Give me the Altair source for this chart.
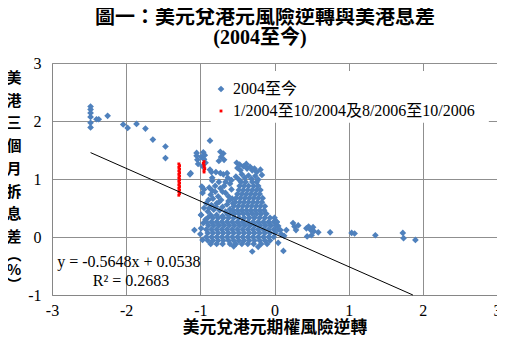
import altair as alt
import pandas as pd

S1 = "2004至今"
S2 = "1/2004至10/2004及8/2006至10/2006"
BLUE = "#4F81BD"
RED = "#FF0000"

# ---- blue series ----
top_left = [(-2.48, 2.25), (-2.48, 2.20), (-2.48, 2.14), (-2.48, 2.07), (-2.48, 1.97), (-2.48, 1.89),
            (-2.40, 2.03), (-2.37, 2.03), (-2.25, 2.09), (-2.04, 1.94), (-1.98, 1.88), (-1.86, 1.95),
            (-1.74, 1.87), (-1.64, 1.68), (-1.47, 1.56), (-1.47, 1.36), (-1.14, 1.08)]

upper = [(-0.87, 1.66), (-1.05, 1.45), (-1.05, 1.40), (-1.04, 1.33), (-1.03, 1.26), (-0.99, 1.38),
         (-0.96, 1.46), (-0.94, 1.41), (-0.95, 1.34), (-0.93, 1.28), (-0.97, 1.22), (-1.13, 1.10),
         (-0.87, 1.16), (-0.85, 1.12), (-0.84, 1.02), (-0.73, 1.47), (-0.69, 1.44), (-0.72, 1.38),
         (-0.68, 1.33), (-0.75, 1.31), (-0.73, 1.10), (-0.69, 1.08), (-0.79, 1.12), (-0.64, 1.10)]

tower_top = [(-0.51, 1.28), (-0.47, 1.25), (-0.50, 1.19), (-0.46, 1.15), (-0.42, 1.22), (-0.38, 1.26),
             (-0.37, 1.18), (-0.33, 1.21), (-0.30, 1.15), (-0.27, 1.18), (-0.24, 1.12), (-0.26, 1.05),
             (-0.19, 1.16), (-0.17, 1.07), (-0.44, 1.08), (-0.40, 1.02), (-0.35, 1.06), (-0.31, 1.00),
             (-0.22, 0.99), (-0.52, 1.04), (-0.48, 0.99)]

tower_row_y = [0.95, 0.88, 0.81, 0.74, 0.67, 0.60, 0.53, 0.46, 0.40]
tower_row_x = [
    [-0.45, -0.39, -0.30, -0.24],
    [-0.47, -0.41, -0.35, -0.28, -0.22],
    [-0.48, -0.42, -0.36, -0.30, -0.24, -0.19],
    [-0.50, -0.44, -0.38, -0.32, -0.26, -0.20],
    [-0.52, -0.46, -0.40, -0.34, -0.28, -0.22, -0.16],
    [-0.53, -0.47, -0.41, -0.35, -0.29, -0.23, -0.17],
    [-0.55, -0.49, -0.43, -0.37, -0.31, -0.25, -0.19, -0.13],
    [-0.56, -0.50, -0.44, -0.38, -0.32, -0.26, -0.20, -0.14],
    [-0.60, -0.54, -0.48, -0.42, -0.36, -0.30, -0.24, -0.18, -0.11],
]

left_mid = [(-0.98, 0.87), (-0.95, 0.82), (-0.97, 0.76), (-0.88, 0.85), (-0.84, 0.80), (-0.86, 0.73),
            (-0.80, 0.78), (-0.76, 0.70), (-0.83, 0.66), (-0.89, 0.64), (-0.72, 0.64), (-0.66, 0.76),
            (-0.62, 0.70), (-0.58, 0.82), (-0.60, 0.92), (-0.66, 0.95), (-0.75, 0.95), (-0.84, 0.97),
            (-0.92, 0.58), (-0.85, 0.55), (-0.78, 0.58), (-0.70, 0.52), (-0.64, 0.56), (-0.60, 0.48),
            (-0.66, 0.44), (-0.74, 0.46), (-0.82, 0.47), (-0.90, 0.44), (-0.99, 0.38), (-0.86, 0.38),
            (-0.78, 0.38), (-0.70, 0.36), (-0.63, 0.39), (-0.80, 0.88), (-0.73, 0.84), (-0.68, 0.88),
            (-0.70, 0.78), (-0.62, 0.62), (-0.57, 0.66), (-0.56, 0.58), (-0.75, 0.60), (-0.79, 0.52),
            (-0.88, 0.50), (-0.95, 0.50), (-0.93, 0.30), (-0.58, 0.98), (-0.63, 1.02)]

core_row_y = [0.33, 0.26, 0.20, 0.13, 0.07, 0.00, -0.06, -0.12]
core_row_x = [
    [-0.90, -0.83, -0.76, -0.69, -0.62, -0.55, -0.48, -0.41, -0.34, -0.27, -0.20, -0.13, -0.06, 0.00],
    [-0.92, -0.85, -0.78, -0.71, -0.64, -0.57, -0.50, -0.43, -0.36, -0.29, -0.22, -0.15, -0.08, -0.01, 0.03],
    [-0.89, -0.82, -0.75, -0.68, -0.61, -0.54, -0.47, -0.40, -0.33, -0.26, -0.19, -0.12, -0.05, 0.02],
    [-0.92, -0.85, -0.78, -0.71, -0.64, -0.57, -0.50, -0.43, -0.36, -0.29, -0.22, -0.15, -0.08, -0.01, 0.05],
    [-0.90, -0.83, -0.76, -0.69, -0.62, -0.55, -0.48, -0.41, -0.34, -0.27, -0.20, -0.13, -0.06, 0.01],
    [-0.92, -0.85, -0.78, -0.71, -0.64, -0.57, -0.50, -0.43, -0.36, -0.29, -0.22, -0.15, -0.08, -0.01],
    [-0.90, -0.83, -0.76, -0.69, -0.62, -0.55, -0.48, -0.41, -0.34, -0.27, -0.20, -0.13, -0.06],
    [-0.86, -0.78, -0.70, -0.60, -0.52, -0.44, -0.36, -0.28, -0.18, -0.10],
]

left_sparse = [(-1.08, 0.12), (-0.99, 0.15), (-1.00, 0.05), (-0.97, -0.05), (-0.99, 0.38), (-0.96, 0.24)]
bottom_extra = [(-0.30, -0.25), (0.12, -0.24), (-0.55, -0.16), (-0.22, -0.17), (0.05, -0.10)]
right_tail = [(0.03, 0.26), (0.05, 0.19), (0.08, 0.12), (0.09, 0.05), (0.16, 0.12), (0.13, 0.02),
              (0.25, 0.24), (0.27, 0.18), (0.29, 0.12), (0.32, 0.20), (0.43, 0.15), (0.46, 0.18),
              (0.49, 0.12), (0.52, 0.17), (0.53, 0.10), (0.44, 0.01), (0.50, 0.03), (0.59, 0.08),
              (0.75, 0.08), (1.04, 0.07), (1.08, 0.06), (1.36, 0.03), (1.73, 0.07), (1.74, -0.02),
              (1.90, -0.05)]

# ---- red series ----
red_a = [(-1.29, 1.26), (-1.28, 1.23), (-1.29, 1.20), (-1.28, 1.17), (-1.29, 1.14), (-1.28, 1.11),
         (-1.29, 1.08), (-1.28, 1.05), (-1.29, 1.02), (-1.28, 0.99), (-1.29, 0.96), (-1.28, 0.93),
         (-1.29, 0.90), (-1.28, 0.87), (-1.29, 0.84), (-1.28, 0.81), (-1.29, 0.78), (-1.28, 0.75),
         (-1.29, 0.72)]
red_b = [(-0.95, 1.30), (-0.96, 1.27), (-0.95, 1.24), (-0.95, 1.21), (-0.94, 1.18), (-0.95, 1.15),
         (-0.95, 1.12)]

# trend line (y = -0.5648x + 0.0538) endpoints
trend_x = [-2.48, 1.866]
trend_y = [1.455, -1.0]

x_ticks = [-3, -2, -1, 0, 1, 2, 3]
y_ticks = [-1, 0, 1, 2, 3]

rows = []
for group in [top_left, upper, tower_top, left_mid, left_sparse, bottom_extra, right_tail]:
    for x, y in group:
        rows.append({"x": x, "y": y, "series": S1})
for y, xs in zip(tower_row_y, tower_row_x):
    for x in xs:
        rows.append({"x": x, "y": y, "series": S1})
for y, xs in zip(core_row_y, core_row_x):
    for x in xs:
        rows.append({"x": x, "y": y, "series": S1})
for group in [red_a, red_b]:
    for x, y in group:
        rows.append({"x": x, "y": y, "series": S2})
pts = pd.DataFrame(rows)

SERIF = "'Liberation Serif', 'Noto Sans CJK TC', serif"
CJK = "'Noto Sans CJK TC', sans-serif"

xscale = alt.Scale(domain=[-3, 3], nice=False, zero=False)
yscale = alt.Scale(domain=[-1, 3], nice=False, zero=False)
fix_minus = "replace(datum.label, '\u2212', '-')"

xaxis = alt.Axis(values=x_ticks, title=None, format="d", labelFlush=False, labelPadding=7,
                 labelOverlap=False, labelExpr=fix_minus)
yaxis = alt.Axis(values=y_ticks, title=None, format="d", labelPadding=11,
                 labelOverlap=False, labelExpr=fix_minus)

X = alt.X("x:Q", scale=xscale, axis=xaxis)
Y = alt.Y("y:Q", scale=yscale, axis=yaxis)

legend = alt.Legend(title=None, orient="none", legendX=161, legendY=18, labelOffset=4, rowPadding=6,
                    padding=0, labelLimit=400)

# white legend background (in data units)
legend_bg = alt.Chart(pd.DataFrame({"x": [-0.86], "x2": [2.89], "y": [1.97], "y2": [2.86]})).mark_rect(
    color="white").encode(x=X, x2="x2:Q", y=Y, y2="y2:Q")

points = alt.Chart(pts).mark_point(filled=True, opacity=1).encode(
    x=X, y=Y,
    color=alt.Color("series:N", scale=alt.Scale(domain=[S1, S2], range=[BLUE, RED]), legend=legend),
    shape=alt.Shape("series:N", scale=alt.Scale(domain=[S1, S2], range=["diamond", "square"]), legend=legend),
    size=alt.Size("series:N", scale=alt.Scale(type="ordinal", domain=[S1, S2], range=[45, 8]), legend=legend),
)

trend = alt.Chart(pd.DataFrame({"x": trend_x, "y": trend_y})).mark_line(color="black", strokeWidth=1).encode(
    x=X, y=Y)

ann = pd.DataFrame({"x": [-2.93, -2.45], "y": [-0.43, -0.75],
                    "t": ["y = -0.5648x + 0.0538", "R\u00b2 = 0.2683"]})
ann_text = alt.Chart(ann).mark_text(font=SERIF, fontSize=16, align="left", baseline="middle",
                                    color="black").encode(x=X, y=Y, text="t:N")

one = alt.Data(values=[{"k": 1}])
ytitle_main = alt.Chart(one).mark_text(
    text=["美", "港", "三", "個", "月", "拆", "息", "差"], lineHeight=22.7, font=CJK, fontWeight="bold",
    fontSize=15, align="center", baseline="middle", color="black").encode(
    x=alt.value(-38), y=alt.value(15))
ytitle_paren = alt.Chart(one).mark_text(
    text=["\ufe35", "%", "\ufe36"], lineHeight=15, font=CJK, fontWeight="bold",
    fontSize=15, align="center", baseline="middle", color="black").encode(
    x=alt.value(-38), y=alt.value(192))
xtitle = alt.Chart(one).mark_text(
    text="美元兌港元期權風險逆轉", font=CJK, fontWeight="bold", fontSize=16.8, align="center",
    baseline="middle", color="black").encode(x=alt.value(223), y=alt.value(265))
title1 = alt.Chart(one).mark_text(
    text="圖一：美元兌港元風險逆轉與美港息差", font=SERIF, fontWeight="bold", fontSize=20,
    align="center", baseline="middle", color="black").encode(x=alt.value(213), y=alt.value(-45))
title2 = alt.Chart(one).mark_text(
    text="(2004至今)", font=SERIF, fontWeight="bold", fontSize=20,
    align="center", baseline="middle", color="black").encode(x=alt.value(208), y=alt.value(-25))

chart = alt.layer(legend_bg, points, trend, ann_text, ytitle_main, ytitle_paren, xtitle, title1, title2).properties(
    width=445, height=232,
    autosize=alt.AutoSizeParams(type="none"),
    padding={"left": 44, "top": 55, "right": 0, "bottom": 42},
).configure_view(stroke=None).configure(background="white").configure_axis(
    grid=True, gridColor="#8F8F8F", gridWidth=1, domainColor="#868686", ticks=False,
    labelFont=SERIF, labelFontSize=16, labelColor="black",
).configure_legend(
    labelFont=SERIF, labelFontSize=16, labelColor="black", symbolStrokeWidth=0,
)

chart.save("out.html", embed_options={"renderer": "svg", "actions": False})
